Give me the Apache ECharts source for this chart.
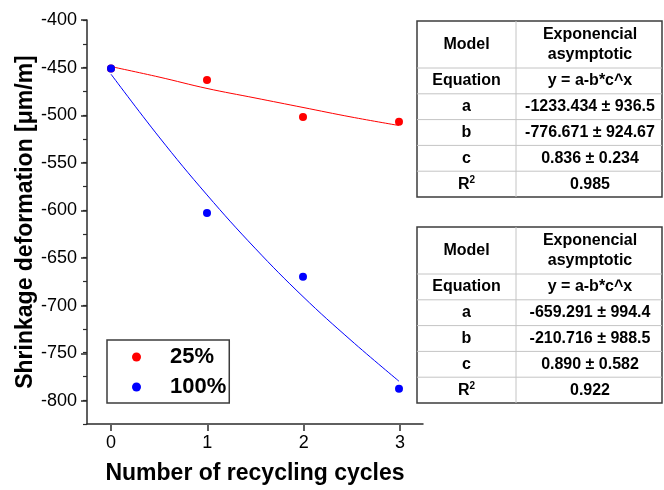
<!DOCTYPE html>
<html>
<head>
<meta charset="utf-8">
<script src="https://cdn.jsdelivr.net/npm/echarts@6/dist/echarts.min.js"></script>
<style>
html,body{margin:0;padding:0;background:#fff;}
#c{width:664px;height:490px;}
</style>
</head>
<body>
<div id="c"></div>
<script>
// ---- data ----
var seriesNames = ['25%', '100%'];
var cycles = [0, 1, 2, 3];
var shrink25 = [-451, -463, -502, -507];
var shrink100 = [-451, -603, -670, -788];
// fitted curves
var fitX = [0, 0.5, 1, 1.5, 2, 2.5, 3];
var fit25 = [-449, -460, -472, -482, -492, -502, -511];
var fit100 = [-457, -523, -584, -640, -691, -737, -780];
var xTicks = [0, 1, 2, 3];
var yTicks = [-800, -750, -700, -650, -600, -550, -500, -450, -400];
// tables
var tableHeader = ['Model', 'Exponencial\nasymptotic'];
var tableLabels = ['Equation', 'a', 'b', 'c', 'R2'];
var table100 = ['y = a-b*c^x', '-1233.434 ± 936.5', '-776.671 ± 924.67', '0.836 ± 0.234', '0.985'];
var table25 = ['y = a-b*c^x', '-659.291 ± 994.4', '-210.716 ± 988.5', '0.890 ± 0.582', '0.922'];

var FONT = "'Liberation Sans', Arial, sans-serif";
var AX = '#2b2b2b';

function pairs(xs, ys) { return xs.map(function (x, i) { return [x, ys[i]]; }); }

function buildTable(top, values) {
  var left = 417, mid = 516, right = 662, headerH = 47, rowH = 25.8;
  var els = [];
  var total = headerH + rowH * values.length;
  els.push({ type: 'rect', shape: { x: left, y: top, width: right - left, height: total },
    style: { fill: '#fff', stroke: '#3c3c3c', lineWidth: 1.5 }, z: 10 });
  els.push({ type: 'line', shape: { x1: mid, y1: top, x2: mid, y2: top + total },
    style: { stroke: '#c4c4c4', lineWidth: 1 }, z: 11 });
  for (var i = 0; i < values.length; i++) {
    var y = top + headerH + rowH * i;
    els.push({ type: 'line', shape: { x1: left, y1: y, x2: right, y2: y },
      style: { stroke: '#c4c4c4', lineWidth: 1 }, z: 11 });
  }
  var ts = { font: 'bold 16px ' + FONT, fill: '#000', align: 'center', verticalAlign: 'middle' };
  els.push({ type: 'text', x: (left + mid) / 2, y: top + headerH / 2, z: 12,
    style: Object.assign({ text: tableHeader[0] }, ts) });
  els.push({ type: 'text', x: (mid + right) / 2 + 1, y: top + headerH / 2, z: 12,
    style: Object.assign({ text: tableHeader[1], lineHeight: 20 }, ts) });
  for (var j = 0; j < values.length; j++) {
    var cy = top + headerH + rowH * j + rowH / 2;
    var lab = tableLabels[j];
    if (lab === 'R2') {
      els.push({ type: 'text', x: (left + mid) / 2, y: cy, z: 12,
        style: { text: '{r|R}{s|2}', align: 'center', verticalAlign: 'middle',
          rich: { r: { font: 'bold 16px ' + FONT, fill: '#000' },
                  s: { font: 'bold 10px ' + FONT, fill: '#000', padding: [0, 0, 8, 0] } } } });
    } else {
      els.push({ type: 'text', x: (left + mid) / 2, y: cy, z: 12,
        style: Object.assign({ text: lab }, ts) });
    }
    els.push({ type: 'text', x: (mid + right) / 2 + 1, y: cy, z: 12,
      style: Object.assign({ text: values[j] }, ts) });
  }
  return els;
}

var chart = echarts.init(document.getElementById('c'), null, { renderer: 'canvas' });
var option = {
  backgroundColor: '#fff',
  animation: false,
  textStyle: { fontFamily: FONT },
  grid: [
    { left: 87, right: 241, top: 20, bottom: 65 },
    { left: 111, right: 264, top: 20, bottom: 89 }
  ],
  xAxis: [
    { type: 'value', gridIndex: 0, min: -0.25, max: 3.25, interval: 0.25,
      axisLine: { show: true, onZero: false, lineStyle: { color: AX, width: 1.5 } },
      axisTick: { show: false }, axisLabel: { show: false }, splitLine: { show: false },
      name: 'Number of recycling cycles', nameLocation: 'middle', nameGap: 38,
      nameTextStyle: { fontFamily: FONT, fontSize: 23, fontWeight: 'bold', color: '#000' } },
    { type: 'value', gridIndex: 1, min: xTicks[0], max: xTicks[xTicks.length - 1], interval: 1,
      position: 'bottom', offset: 24,
      axisLine: { show: false, onZero: false },
      axisTick: { show: true, length: 6, lineStyle: { color: AX, width: 1.5 } },
      axisLabel: { fontSize: 18, color: '#000', margin: 9, fontFamily: FONT },
      splitLine: { show: false } }
  ],
  yAxis: [
    { type: 'value', gridIndex: 0, min: -825, max: -400, interval: 25,
      axisLine: { show: true, onZero: false, lineStyle: { color: AX, width: 1.5 } },
      axisTick: { show: true, length: 4, lineStyle: { color: AX, width: 1.2 } },
      axisLabel: { show: false }, splitLine: { show: false },
      name: 'Shrinkage deformation [μm/m]', nameLocation: 'middle', nameGap: 50,
      nameTextStyle: { fontFamily: FONT, fontSize: 23, fontWeight: 'bold', color: '#000' } },
    { type: 'value', gridIndex: 1, min: yTicks[0], max: yTicks[yTicks.length - 1], interval: 50,
      position: 'left', offset: 24,
      axisLine: { show: false, onZero: false },
      axisTick: { show: true, length: 6, lineStyle: { color: AX, width: 1.5 } },
      axisLabel: { fontSize: 18, color: '#000', margin: 10, fontFamily: FONT },
      splitLine: { show: false } }
  ],
  legend: {
    data: seriesNames, orient: 'vertical', left: 107, top: 340,
    icon: 'circle', itemWidth: 9, itemHeight: 9, itemGap: 8,
    padding: [6, 3, 5, 25],
    borderColor: '#3c3c3c', borderWidth: 1.5, backgroundColor: '#fff',
    itemStyle: { opacity: 1 },
    textStyle: { fontSize: 22, fontWeight: 'bold', color: '#000', fontFamily: FONT, padding: [0, 0, 0, 24] }
  },
  series: [
    { name: 'fit25', type: 'line', xAxisIndex: 0, yAxisIndex: 0, data: pairs(fitX, fit25),
      smooth: 0.4, showSymbol: false, symbol: 'none', lineStyle: { color: '#ff0000', width: 1 }, z: 2 },
    { name: 'fit100', type: 'line', xAxisIndex: 0, yAxisIndex: 0, data: pairs(fitX, fit100),
      smooth: 0.4, showSymbol: false, symbol: 'none', lineStyle: { color: '#0000ff', width: 1 }, z: 2 },
    { name: seriesNames[0], type: 'scatter', xAxisIndex: 0, yAxisIndex: 0, data: pairs(cycles, shrink25),
      symbol: 'circle', symbolSize: 8, itemStyle: { color: '#ff0000', opacity: 1 }, z: 3 },
    { name: seriesNames[1], type: 'scatter', xAxisIndex: 0, yAxisIndex: 0, data: pairs(cycles, shrink100),
      symbol: 'circle', symbolSize: 8, itemStyle: { color: '#0000ff', opacity: 1 }, z: 4 }
  ],
  graphic: buildTable(21, table100).concat(buildTable(227, table25))
};
chart.setOption(option);
</script>
</body>
</html>
